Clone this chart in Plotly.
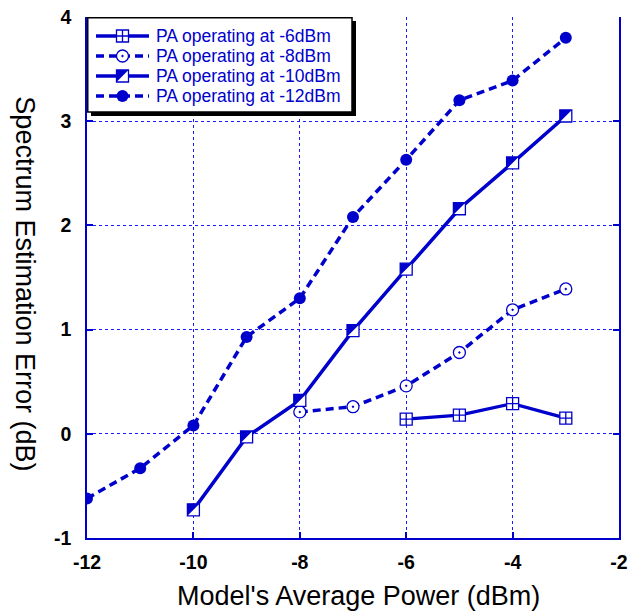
import plotly.graph_objects as go

# ---- data ----------------------------------------------------------------
x_m6 = [-6, -5, -4, -3]
y_m6 = [0.14, 0.18, 0.29, 0.15]

x_m8 = [-8, -7, -6, -5, -4, -3]
y_m8 = [0.21, 0.26, 0.46, 0.78, 1.19, 1.39]

x_m10 = [-10, -9, -8, -7, -6, -5, -4, -3]
y_m10 = [-0.73, -0.03, 0.32, 0.99, 1.58, 2.16, 2.60, 3.05]

x_m12 = [-12, -11, -10, -9, -8, -7, -6, -5, -4, -3]
y_m12 = [-0.62, -0.33, 0.08, 0.93, 1.30, 2.08, 2.63, 3.20, 3.39, 3.80]

series_names = [
    "PA operating at -6dBm",
    "PA operating at -8dBm",
    "PA operating at -10dBm",
    "PA operating at -12dBm",
]

x_ticks = [-12, -10, -8, -6, -4, -2]
x_tick_text = ["-12", "-10", "-8", "-6", "-4", "-2"]
y_ticks = [-1, 0, 1, 2, 3, 4]
y_tick_text = ["-1", "0", "1", "2", "3", "4"]

# ---- styles --------------------------------------------------------------
BLUE = "#0000CC"
GRID = "#1a1aff"
FONT = "Liberation Sans, Arial, sans-serif"
DASH = "8px,5px"
MSIZE = 12

styles = [
    dict(line=dict(color=BLUE, width=3.3),
         marker=dict(symbol="square-cross", size=MSIZE, color="white",
                     line=dict(color=BLUE, width=1.3))),
    dict(line=dict(color=BLUE, width=3.5, dash=DASH),
         marker=dict(symbol="circle-dot", size=MSIZE, color="white",
                     line=dict(color=BLUE, width=1.3))),
    dict(line=dict(color=BLUE, width=3.5),
         marker=dict(symbol="square", size=MSIZE, color="white",
                     line=dict(color=BLUE, width=1.3))),
    dict(line=dict(color=BLUE, width=3.5, dash=DASH),
         marker=dict(symbol="circle", size=MSIZE, color=BLUE,
                     line=dict(color=BLUE, width=0))),
]

xs = [x_m6, x_m8, x_m10, x_m12]
ys = [y_m6, y_m8, y_m10, y_m12]

fig = go.Figure()

for name, xv, yv, st in zip(series_names, xs, ys, styles):
    fig.add_trace(go.Scatter(x=xv, y=yv, mode="lines+markers", name=name,
                             line=st["line"], marker=st["marker"],
                             showlegend=False, xaxis="x", yaxis="y"))

# half-filled square marker: filled upper-left triangle on each -10dBm point
HALF = "M-6,6 L6,6 L-6,-6 Z"
shapes = []
for xv, yv in zip(x_m10, y_m10):
    shapes.append(dict(type="path", xref="x", yref="y",
                       xsizemode="pixel", ysizemode="pixel",
                       xanchor=xv, yanchor=yv, path=HALF,
                       fillcolor=BLUE, line=dict(width=0), layer="above"))

# ---- boxed legend on its own pixel-scaled axes --------------------------
LEG_W, LEG_H = 270, 100
row_y = [19, 39, 59, 79]
sample_x = [9, 62]
marker_x = 35.5
text_x = 67

shapes.append(dict(type="rect", xref="x2", yref="y2", x0=4, x1=269, y0=4, y1=99,
                   fillcolor="black", line=dict(width=0), layer="below"))
shapes.append(dict(type="rect", xref="x2", yref="y2", x0=0.75, x1=265, y0=0.75, y1=95,
                   fillcolor="white", line=dict(color="black", width=1.5),
                   layer="below"))

annotations = []
for name, ry, st in zip(series_names, row_y, styles):
    fig.add_trace(go.Scatter(x=sample_x, y=[ry, ry], mode="lines",
                             line=st["line"], showlegend=False,
                             hoverinfo="skip", xaxis="x2", yaxis="y2"))
    fig.add_trace(go.Scatter(x=[marker_x], y=[ry], mode="markers",
                             marker=st["marker"], showlegend=False,
                             hoverinfo="skip", xaxis="x2", yaxis="y2"))
    annotations.append(dict(xref="x2", yref="y2", x=text_x, y=ry, text=name,
                            showarrow=False, xanchor="left", yanchor="middle",
                            font=dict(family=FONT, size=17.5, color=BLUE)))

shapes.append(dict(type="path", xref="x2", yref="y2",
                   xsizemode="pixel", ysizemode="pixel",
                   xanchor=marker_x, yanchor=row_y[2], path=HALF,
                   fillcolor=BLUE, line=dict(width=0), layer="above"))

# ---- axis titles ---------------------------------------------------------
annotations.append(dict(xref="paper", yref="paper", x=0.511, y=-0.1106,
                        text="Model's Average Power (dBm)", showarrow=False,
                        xanchor="center", yanchor="middle",
                        font=dict(family=FONT, size=27, color="black")))
annotations.append(dict(xref="paper", yref="paper", x=-0.1158, y=0.488,
                        text="Spectrum Estimation Error (dB)", showarrow=False,
                        textangle=90, xanchor="center", yanchor="middle",
                        font=dict(family=FONT, size=27, color="black")))

axis_common = dict(
    showline=True, linecolor=BLUE, linewidth=1.5,
    ticks="inside", ticklen=6, tickwidth=1.5, tickcolor=BLUE,
    showgrid=True, gridcolor=GRID, gridwidth=1, griddash="3px,3px",
    zeroline=False, automargin=False,
    tickfont=dict(family=FONT, size=19.5, color="black", weight="bold"),
)

fig.update_layout(
    width=641, height=612, autosize=False,
    margin=dict(l=87, r=22, t=17, b=74, autoexpand=False),
    paper_bgcolor="white", plot_bgcolor="white",
    showlegend=False,
    xaxis=dict(range=[-12, -2], tickvals=x_ticks, ticktext=x_tick_text,
               mirror=False, ticklabelstandoff=6, domain=[0, 1], **axis_common),
    yaxis=dict(range=[-1, 4], tickvals=y_ticks, ticktext=y_tick_text,
               mirror="ticks", ticklabelstandoff=10, domain=[0, 1], **axis_common),
    xaxis2=dict(range=[0, LEG_W], domain=[0, LEG_W / 532], anchor="y2",
                visible=False, fixedrange=True),
    yaxis2=dict(range=[LEG_H, 0], domain=[1 - LEG_H / 521, 1], anchor="x2",
                visible=False, fixedrange=True),
    shapes=shapes,
    annotations=annotations,
)

fig.write_html("out.html")
